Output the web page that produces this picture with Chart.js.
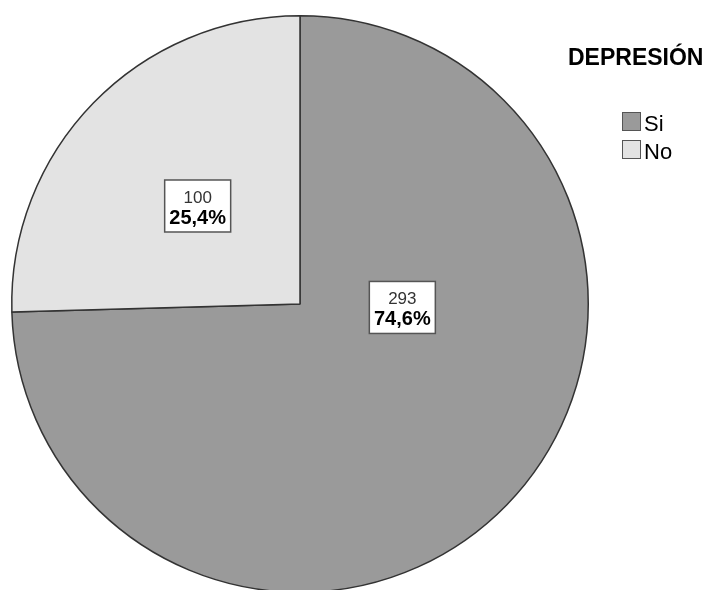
<!DOCTYPE html>
<html>
<head>
<meta charset="utf-8">
<script src="https://cdn.jsdelivr.net/npm/chart.js@4/dist/chart.umd.min.js"></script>
<style>
    html, body { margin: 0; padding: 0; background: #fff; overflow: hidden; }
    #wrap { position: absolute; left: 0; top: 0; width: 713px; height: 600px; }
</style>
</head>
<body>
<div id="wrap"><canvas id="chart"></canvas></div>
<script>
const legendTitle = 'DEPRESIÓN';
const categories = ['Si', 'No'];
const counts = [293, 100];
const percentLabels = ['74,6%', '25,4%'];
const sliceColors = ['#9a9a9a', '#e3e3e3'];

// where each value box sits, as a fraction of the radius from the centre (SPSS placement)
const labelOffsets = [[0.355, 0.012], [-0.355, -0.34]];

const FONT = '"Liberation Sans", Arial, sans-serif';

const boxLabels = {
    id: 'boxLabels',
    afterDatasetsDraw(chart) {
        const ctx = chart.ctx;
        const arcs = chart.getDatasetMeta(0).data;
        ctx.save();
        arcs.forEach((arc, i) => {
            const r = arc.outerRadius;
            const cx = arc.x + labelOffsets[i][0] * r;
            const cy = arc.y + labelOffsets[i][1] * r;
            const w = 66, h = 52;
            ctx.fillStyle = '#fff';
            ctx.fillRect(cx - w / 2, cy - h / 2, w, h);
            ctx.strokeStyle = '#555';
            ctx.lineWidth = 1.5;
            ctx.strokeRect(cx - w / 2, cy - h / 2, w, h);

            ctx.textAlign = 'center';
            ctx.textBaseline = 'alphabetic';
            ctx.fillStyle = '#333';
            ctx.font = '17px ' + FONT;
            ctx.fillText(String(counts[i]), cx, cy - 3);
            ctx.fillStyle = '#000';
            ctx.font = 'bold 20px ' + FONT;
            ctx.fillText(percentLabels[i], cx, cy + 18);
        });
        ctx.restore();
    }
};

const sideLegend = {
    id: 'sideLegend',
    afterDraw(chart) {
        const ctx = chart.ctx;
        const x = chart.chartArea.right;
        ctx.save();
        ctx.fillStyle = '#000';
        ctx.textAlign = 'left';
        ctx.textBaseline = 'alphabetic';
        ctx.font = 'bold 23px ' + FONT;
        ctx.fillText(legendTitle, x - 21, 65);

        categories.forEach((label, i) => {
            const y = 112 + i * 28;
            ctx.fillStyle = sliceColors[i];
            ctx.fillRect(x + 33, y, 19, 19);
            ctx.strokeStyle = '#555';
            ctx.lineWidth = 1;
            ctx.strokeRect(x + 33.5, y + 0.5, 18, 18);
            ctx.fillStyle = '#000';
            ctx.font = '22px ' + FONT;
            ctx.fillText(label, x + 55, y + 19);
        });
        ctx.restore();
    }
};

new Chart(document.getElementById('chart'), {
    type: 'pie',
    data: {
        labels: categories,
        datasets: [{
            data: counts,
            backgroundColor: sliceColors,
            borderColor: '#333',
            borderWidth: 1.5
        }]
    },
    options: {
        responsive: true,
        maintainAspectRatio: false,
        animation: false,
        layout: {
            padding: { left: 11, right: 124, top: 15, bottom: 7 }
        },
        plugins: {
            legend: { display: false },
            tooltip: { enabled: false }
        }
    },
    plugins: [boxLabels, sideLegend]
});
</script>
</body>
</html>
